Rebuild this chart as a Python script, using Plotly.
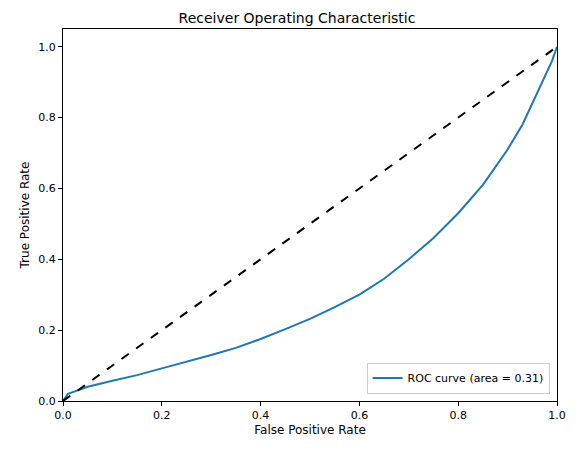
import plotly.graph_objects as go

# ROC curve values
fpr = [0.0, 0.005, 0.01, 0.03, 0.05, 0.1, 0.15, 0.2, 0.25, 0.3, 0.35, 0.4, 0.45,
       0.5, 0.55, 0.6, 0.65, 0.7, 0.75, 0.8, 0.85, 0.9, 0.93, 0.95, 0.97, 0.99, 1.0]
tpr = [0.0, 0.012, 0.02, 0.03, 0.04, 0.057, 0.073, 0.092, 0.11, 0.13, 0.15, 0.175, 0.203,
       0.232, 0.265, 0.3, 0.345, 0.4, 0.46, 0.53, 0.61, 0.71, 0.78, 0.84, 0.895, 0.96, 1.0]
roc_auc = 0.31
diag = [0, 1]

fig = go.Figure()
fig.add_trace(go.Scatter(x=fpr, y=tpr, mode='lines',
                         line=dict(color='#1f77b4', width=2),
                         name=f'ROC curve (area = {roc_auc:.2f})'))
fig.add_trace(go.Scatter(x=diag, y=diag, mode='lines',
                         line=dict(color='black', width=2, dash='dash'),
                         showlegend=False))

axis = dict(showgrid=False, zeroline=False, showline=True, mirror=True,
            linecolor='black', linewidth=1, ticks='outside', ticklen=4,
            tickcolor='black', tickformat='.1f', dtick=0.2,
            title_font=dict(size=12), tickfont=dict(size=11))

fig.update_layout(
    width=578, height=455,
    margin=dict(l=55, r=29, t=21, b=62),
    paper_bgcolor='white', plot_bgcolor='white',
    font=dict(family='DejaVu Sans', size=11, color='black'),
    title=dict(text='Receiver Operating Characteristic', x=0.5, xanchor='center',
               y=0.978, yanchor='middle', font=dict(size=14)),
    xaxis=dict(axis, range=[0, 1], title_text='False Positive Rate', title_standoff=4),
    yaxis=dict(axis, range=[0, 1.05], title_text='True Positive Rate', title_standoff=6),
    legend=dict(x=0.985, y=0.02, xanchor='right', yanchor='bottom',
                bordercolor='#cccccc', borderwidth=1, bgcolor='white',
                font=dict(size=11)),
)

fig.write_html("out.html")
